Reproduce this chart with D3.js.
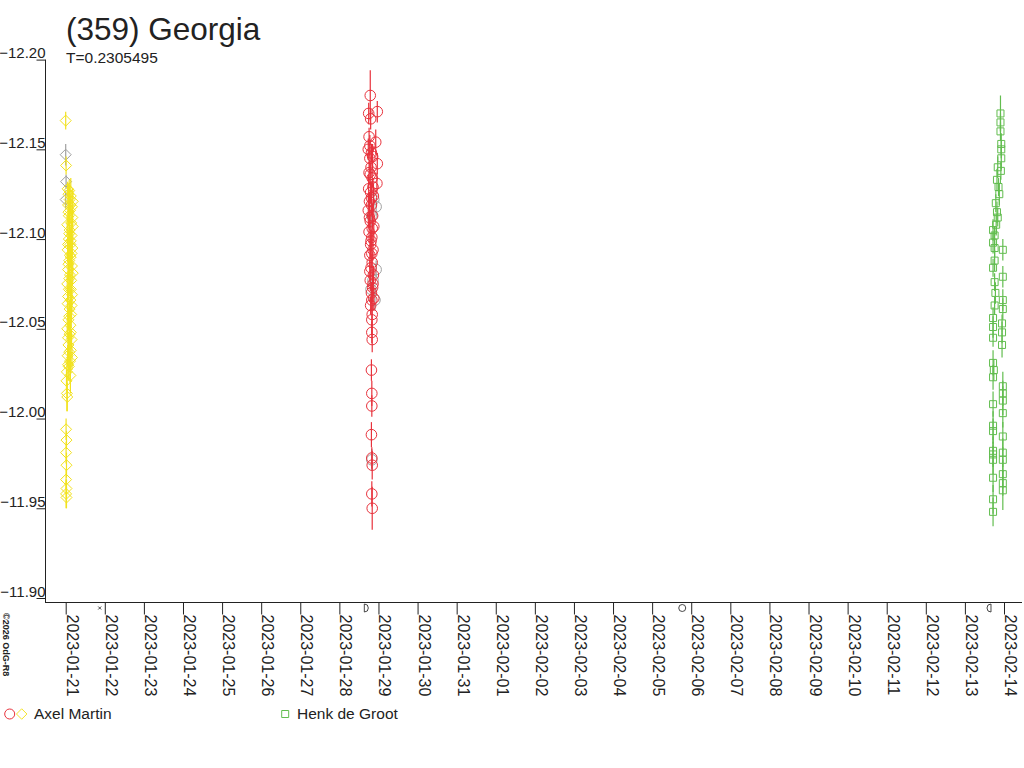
<!DOCTYPE html>
<html>
<head>
<meta charset="utf-8">
<script src="https://cdn.jsdelivr.net/npm/d3@7"></script>
<style>
  body { margin: 0; background: #fff; }
  svg { display: block; }
  text { font-family: "Liberation Sans", Arial, sans-serif; fill: #222; }
</style>
</head>
<body>
<svg id="chart" width="1024" height="768"></svg>
<script>
// Texts
const title = "(359) Georgia";
const subtitle = "T=0.2305495";
const credit = "\u00a92026 OdG-R8";
const legendNames = ["Axel Martin", "Henk de Groot"];

// Axes
const startDate = "2023-01-21";
const endDate = "2023-02-14";
const yTicks = [-12.20, -12.15, -12.10, -12.05, -12.00, -11.95, -11.90];

// Observations: [days after 2023-01-21 00:00 UT, magnitude, error]
const axelYellow = [
  [0.00, -12.166, 0.005], [0.01, -12.141, 0.005],
  [0.05, -12.128, 0.004], [0.07, -12.125, 0.006], [0.10, -12.122, 0.008], [0.13, -12.124, 0.010],
  [0.16, -12.118, 0.009], [0.06, -12.119, 0.005], [0.11, -12.116, 0.007], [0.17, -12.112, 0.006],
  [0.08, -12.113, 0.004], [0.14, -12.109, 0.008], [0.04, -12.108, 0.006], [0.10, -12.105, 0.010],
  [0.15, -12.102, 0.007], [0.08, -12.100, 0.005], [0.12, -12.097, 0.009], [0.17, -12.095, 0.006],
  [0.05, -12.094, 0.007], [0.13, -12.090, 0.006], [0.09, -12.088, 0.008], [0.16, -12.085, 0.005],
  [0.06, -12.083, 0.006], [0.11, -12.080, 0.010], [0.14, -12.077, 0.007], [0.04, -12.075, 0.005],
  [0.08, -12.072, 0.006], [0.16, -12.069, 0.008], [0.12, -12.066, 0.006], [0.05, -12.064, 0.009],
  [0.10, -12.061, 0.005], [0.14, -12.058, 0.007], [0.07, -12.055, 0.006], [0.12, -12.052, 0.010],
  [0.04, -12.050, 0.006], [0.10, -12.047, 0.008], [0.15, -12.044, 0.005], [0.07, -12.041, 0.007],
  [0.13, -12.038, 0.009], [0.05, -12.035, 0.006], [0.11, -12.032, 0.012], [0.08, -12.029, 0.008],
  [0.03, -12.026, 0.007], [0.12, -12.024, 0.010], [0.02, -12.021, 0.006],
  [0.09, -12.127, 0.006], [0.18, -12.121, 0.007], [0.12, -12.119, 0.005], [0.07, -12.115, 0.008],
  [0.18, -12.107, 0.006], [0.09, -12.103, 0.007], [0.13, -12.099, 0.006], [0.06, -12.097, 0.008],
  [0.15, -12.092, 0.007], [0.11, -12.091, 0.006], [0.07, -12.086, 0.009], [0.18, -12.081, 0.006],
  [0.09, -12.078, 0.007], [0.13, -12.072, 0.008], [0.06, -12.068, 0.006], [0.15, -12.063, 0.009],
  [0.09, -12.057, 0.006], [0.13, -12.048, 0.007], [0.06, -12.045, 0.008], [0.09, -12.037, 0.010],
  [0.16, -12.034, 0.007], [0.06, -12.030, 0.009],
  [0.03, -12.014, 0.010], [0.04, -12.012, 0.008],
  [0.01, -11.994, 0.006], [0.02, -11.988, 0.005], [0.01, -11.981, 0.006], [0.02, -11.974, 0.007],
  [0.01, -11.966, 0.006], [0.02, -11.961, 0.005], [0.01, -11.958, 0.008], [0.02, -11.956, 0.006]
];

const axelRed = [
  [7.79, -12.180, 0.014], [7.97, -12.171, 0.006], [7.75, -12.170, 0.006], [7.80, -12.167, 0.006],
  [7.76, -12.157, 0.005], [7.93, -12.154, 0.007], [7.74, -12.150, 0.006], [7.82, -12.148, 0.005],
  [7.97, -12.142, 0.006], [7.78, -12.145, 0.008], [7.81, -12.140, 0.006], [7.76, -12.137, 0.007],
  [7.84, -12.134, 0.005], [7.96, -12.131, 0.006], [7.75, -12.128, 0.008], [7.80, -12.126, 0.006],
  [7.87, -12.124, 0.007], [7.77, -12.121, 0.005], [7.82, -12.119, 0.006], [7.74, -12.116, 0.009],
  [7.85, -12.113, 0.007], [7.79, -12.110, 0.006], [7.88, -12.107, 0.008], [7.76, -12.104, 0.006],
  [7.83, -12.101, 0.005], [7.80, -12.097, 0.007], [7.86, -12.094, 0.006], [7.78, -12.091, 0.008],
  [7.84, -12.087, 0.006], [7.81, -12.084, 0.007], [7.87, -12.080, 0.005], [7.79, -12.077, 0.006],
  [7.85, -12.073, 0.008], [7.82, -12.070, 0.006], [7.88, -12.067, 0.007], [7.80, -12.063, 0.005],
  [7.84, -12.058, 0.007], [7.83, -12.055, 0.008], [7.83, -12.048, 0.006], [7.84, -12.044, 0.007],
  [7.78, -12.152, 0.006], [7.85, -12.146, 0.007], [7.79, -12.136, 0.006], [7.86, -12.129, 0.005],
  [7.82, -12.123, 0.008], [7.77, -12.112, 0.006], [7.84, -12.106, 0.007], [7.81, -12.099, 0.006],
  [7.83, -12.092, 0.008], [7.78, -12.082, 0.006], [7.86, -12.075, 0.007], [7.83, -12.066, 0.006],
  [7.82, -12.027, 0.006], [7.83, -12.014, 0.007], [7.83, -12.007, 0.006], [7.82, -11.991, 0.007],
  [7.83, -11.978, 0.006], [7.84, -11.974, 0.008], [7.83, -11.958, 0.007], [7.84, -11.950, 0.012]
];

const henkGreen = [
  [23.91, -12.170, 0.010], [23.91, -12.165, 0.005], [23.91, -12.160, 0.005], [23.93, -12.153, 0.006],
  [23.93, -12.150, 0.005], [23.93, -12.145, 0.006], [23.84, -12.140, 0.006], [23.92, -12.138, 0.005],
  [23.82, -12.133, 0.006], [23.86, -12.129, 0.005], [23.88, -12.125, 0.006], [23.79, -12.120, 0.005],
  [23.82, -12.115, 0.006], [23.84, -12.112, 0.005], [23.80, -12.108, 0.006], [23.72, -12.105, 0.006],
  [23.76, -12.102, 0.005], [23.72, -12.098, 0.006], [23.76, -12.095, 0.005], [23.97, -12.094, 0.006],
  [23.76, -12.088, 0.006], [23.72, -12.084, 0.005], [23.97, -12.079, 0.006], [23.76, -12.076, 0.005],
  [23.78, -12.070, 0.006], [23.97, -12.066, 0.006], [23.76, -12.063, 0.005], [23.97, -12.061, 0.006],
  [23.72, -12.056, 0.006], [23.95, -12.053, 0.005], [23.72, -12.051, 0.006], [23.95, -12.048, 0.006],
  [23.72, -12.045, 0.005], [23.95, -12.041, 0.007], [23.72, -12.031, 0.007], [23.74, -12.027, 0.006],
  [23.72, -12.023, 0.007], [23.97, -12.018, 0.008], [23.97, -12.014, 0.007], [23.97, -12.010, 0.008],
  [23.72, -12.008, 0.007], [23.97, -12.003, 0.008], [23.72, -11.996, 0.008], [23.72, -11.993, 0.007],
  [23.97, -11.990, 0.008], [23.72, -11.982, 0.008], [23.72, -11.980, 0.007], [23.72, -11.977, 0.008],
  [23.97, -11.981, 0.008], [23.97, -11.977, 0.007], [23.72, -11.967, 0.008], [23.97, -11.969, 0.008],
  [23.97, -11.964, 0.007], [23.97, -11.960, 0.011], [23.72, -11.955, 0.008], [23.72, -11.948, 0.008]
];

// rejected / other points drawn in grey
const greyDiamonds = [[0.00, -12.147, 0.006], [0.01, -12.132, 0.004], [0.00, -12.122, 0.005]];
const greyCircles = [
  [7.88, -12.122, 0.006], [7.94, -12.118, 0.005], [7.83, -12.113, 0.006], [7.94, -12.083, 0.005],
  [7.86, -12.077, 0.006], [7.81, -12.072, 0.005], [7.91, -12.066, 0.006], [7.83, -11.977, 0.006]
];

// moon phases shown along the time axis
const moonTimes = ["2023-01-21T20:53Z", "2023-01-28T15:19Z", "2023-02-05T18:29Z", "2023-02-13T16:01Z"];
const moonKinds = ["new", "first", "full", "last"];

const colYellow = "#f2e21e", colRed = "#e8323c", colGreen = "#62bd4f", colGrey = "#a0a0a0";

const svg = d3.select("#chart");
svg.append("rect").attr("width", 1024).attr("height", 768).attr("fill", "#fff");

const t0 = new Date(startDate + "T00:00:00Z").getTime();
const toDate = d => new Date(t0 + d * 864e5);

const x = d3.scaleUtc()
    .domain([new Date(startDate + "T00:00:00Z"), new Date(endDate + "T00:00:00Z")])
    .range([65.7, 1004]);
const y = d3.scaleLinear()
    .domain([-12.20, -11.90])
    .range([59.6, 598]);

// title
svg.append("text").attr("x", 66).attr("y", 40)
    .style("font-size", "31.5px").text(title);
svg.append("text").attr("x", 66).attr("y", 63)
    .style("font-size", "15.5px").text(subtitle);

// y axis
const yAxis = svg.append("g")
    .attr("transform", "translate(45.5,0)")
    .call(d3.axisLeft(y).tickValues(yTicks).tickSize(9).tickSizeOuter(0).tickFormat(d3.format(".2f")));
yAxis.select(".domain").remove();
yAxis.selectAll("line").attr("stroke", "#222");
yAxis.selectAll("text")
    .attr("x", 0).attr("dy", -2)
    .style("font-size", "15px")
    .style("font-family", "'Liberation Sans', Arial, sans-serif")
    .attr("fill", "#222");
svg.append("line").attr("x1", 45.5).attr("x2", 45.5).attr("y1", y(-12.20)).attr("y2", 602.5)
    .attr("stroke", "#222");

// x axis
const xAxis = svg.append("g")
    .attr("transform", "translate(0,602.5)")
    .call(d3.axisBottom(x).ticks(d3.utcDay.every(1)).tickSize(12).tickSizeOuter(0)
        .tickFormat(d3.utcFormat("%Y-%m-%d")));
xAxis.select(".domain").remove();
xAxis.selectAll("line").attr("stroke", "#222");
xAxis.selectAll("text")
    .attr("x", 0).attr("y", 0).attr("dy", 0)
    .attr("text-anchor", "start")
    .attr("transform", "translate(0.5,12) rotate(90)")
    .style("font-size", "16px")
    .style("font-family", "'Liberation Sans', Arial, sans-serif")
    .attr("fill", "#222");
svg.append("line").attr("x1", 45).attr("x2", 1022).attr("y1", 602.5).attr("y2", 602.5)
    .attr("stroke", "#222");

// moon phase glyphs
const moon = svg.append("g").attr("fill", "none").attr("stroke", "#333").attr("stroke-width", 0.9);
moonTimes.forEach((m, i) => {
    const g = moon.append("g").attr("transform", `translate(${x(new Date(m))},608)`);
    if (moonKinds[i] === "new") {
        g.append("path").attr("d", "M-1.5,-1.5L1.5,1.5M-1.5,1.5L1.5,-1.5");
    } else if (moonKinds[i] === "full") {
        g.append("circle").attr("r", 3.5);
    } else if (moonKinds[i] === "first") {
        g.append("path").attr("d", "M0,-4V4A4,4 0 0 0 0,-4");
    } else {
        g.append("path").attr("d", "M0,-4V4A4,4 0 0 1 0,-4");
    }
});

// credit
svg.append("text")
    .attr("transform", "translate(2.5,613) rotate(90)")
    .style("font-size", "9px").style("font-weight", "bold")
    .text(credit);

const plot = svg.append("g");

const diamond = "M0,-5.5L5.5,0L0,5.5L-5.5,0Z";
const square = "M-3.5,-3.5H3.5V3.5H-3.5Z";

function drawSeries(data, color, shape) {
    const g = plot.append("g");
    g.selectAll("line").data(data).join("line")
        .attr("x1", d => x(toDate(d[0]))).attr("x2", d => x(toDate(d[0])))
        .attr("y1", d => y(d[1] - d[2])).attr("y2", d => y(d[1] + d[2]))
        .attr("stroke", color).attr("stroke-width", 1.2);
    if (shape === "circle") {
        g.selectAll("circle").data(data).join("circle")
            .attr("cx", d => x(toDate(d[0]))).attr("cy", d => y(d[1]))
            .attr("r", 5.3).attr("fill", "none").attr("stroke", color).attr("stroke-width", 1);
    } else {
        g.selectAll("path").data(data).join("path")
            .attr("d", shape === "diamond" ? diamond : square)
            .attr("transform", d => `translate(${x(toDate(d[0]))},${y(d[1])})`)
            .attr("fill", "none").attr("stroke", color).attr("stroke-width", 1);
    }
}

drawSeries(greyDiamonds, colGrey, "diamond");
drawSeries(greyCircles, colGrey, "circle");
drawSeries(axelYellow, colYellow, "diamond");
drawSeries(axelRed, colRed, "circle");
drawSeries(henkGreen, colGreen, "square");

// legend
const legend = svg.append("g").attr("transform", "translate(0,714)");
legend.append("circle").attr("cx", 9.7).attr("cy", 0).attr("r", 5)
    .attr("fill", "none").attr("stroke", colRed);
legend.append("path").attr("d", diamond).attr("transform", "translate(21.7,0) scale(0.95)")
    .attr("fill", "none").attr("stroke", colYellow);
legend.append("text").attr("x", 34).attr("y", 5).style("font-size", "15.5px").text(legendNames[0]);
legend.append("path").attr("d", square).attr("transform", "translate(285.2,0)")
    .attr("fill", "none").attr("stroke", colGreen);
legend.append("text").attr("x", 297).attr("y", 5).style("font-size", "15.5px").text(legendNames[1]);
</script>
</body>
</html>
